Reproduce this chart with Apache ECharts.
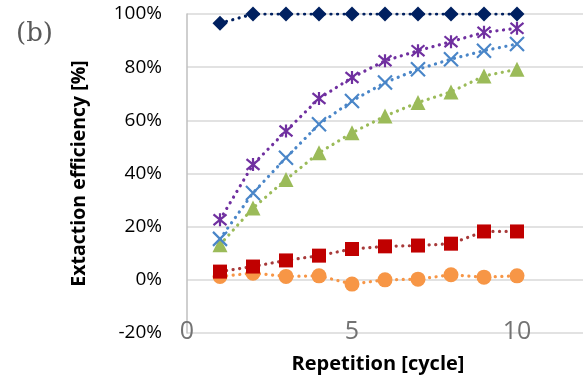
<!DOCTYPE html>
<html><head><meta charset="utf-8">
<script src="https://cdn.jsdelivr.net/npm/echarts@6/dist/echarts.min.js"></script>
<style>html,body{margin:0;padding:0;background:#fff}#c{width:586px;height:382px}</style>
</head><body><div id="c"></div>
<script>
const cycles = [1,2,3,4,5,6,7,8,9,10];
const navy   = [96.5,100,100,100,100,100,100,100,100,100];
const purple = [22.6,43.4,56.0,68.2,76.1,82.4,86.2,89.6,93.1,94.6];
const blue   = [15.4,32.7,45.9,58.5,67.3,74.2,79.2,83.0,86.2,88.7];
const green  = [13.2,27.0,37.7,47.8,55.3,61.6,66.7,70.7,76.7,79.2];
const red    = [3.1,5.0,7.3,9.1,11.6,12.6,12.9,13.6,18.2,18.2];
const orange = [1.3,2.5,1.3,1.5,-1.6,0,0.25,1.9,1.0,1.5];
const yTicks = [-20,0,20,40,60,80,100];
const xTicks = [0,5,10];

const pts = a => a.map((v,i)=>[cycles[i], v]);
const X_PATH = 'path://M0,0L10,10M10,0L0,10';
const STAR_PATH = 'path://M0,0L10,10M10,0L0,10M5,-1L5,11';
function ser(data, lineColor, symbol, size, fill, strokeOnly){
  return {
    type:'line', data: pts(data), symbol: symbol, symbolSize: size,
    lineStyle:{color:lineColor, width:3.2, type:[0.1,6.5], cap:'round'},
    itemStyle: strokeOnly ? {color:'none', borderColor:fill, borderWidth:2.2} : {color:fill, borderWidth:0},
    z: 3
  };
}
const chart = echarts.init(document.getElementById('c'), null, {renderer:'canvas'});
chart.setOption({
  animation:false,
  grid:{left:187, right:3, top:14, bottom:49, containLabel:false},
  graphic:[
    {type:'text', left:16, top:21, style:{text:'(b)', font:'26px "DejaVu Serif", "Liberation Serif", serif', fill:'#595959'}}
  ],
  xAxis:{
    type:'value', min:0, max:12, interval:5,
    name:'Repetition [cycle]', nameLocation:'middle', nameGap:21,
    nameTextStyle:{fontFamily:'Open Sans', fontWeight:'bold', fontSize:20, color:'#000', padding:[0,0,0,-14]},
    axisLine:{show:false}, axisTick:{show:false}, splitLine:{show:false},
    axisLabel:{margin:11, verticalAlign:'bottom', fontFamily:'Open Sans', fontSize:25, color:'#737373', lineHeight:25,
      customValues: xTicks, formatter: v => xTicks.includes(v) ? String(v) : ''}
  },
  yAxis:{
    type:'value', min:-20, max:100, interval:20,
    name:'Extaction efficiency [%]', nameLocation:'middle', nameGap:98, nameRotate:90,
    nameTextStyle:{fontFamily:'Open Sans', fontWeight:'bold', fontSize:19.5, color:'#000'},
    axisLine:{show:true, onZero:false, lineStyle:{color:'#BFBFBF', width:1.5}},
    axisTick:{show:false},
    splitLine:{show:true, lineStyle:{color:'#D9D9D9', width:1.5}},
    axisLabel:{margin:25, fontFamily:'Open Sans', fontSize:19, color:'#000', formatter: v => v + '%'}
  },
  series:[
    ser(orange,'#F79646','circle',15,'#F79646'),
    ser(red,'#A83A3A','rect',14,'#C00000'),
    ser(green,'#9BBB59','triangle',15,'#9BBB59'),
    ser(blue,'#4A86C8',X_PATH,14,'#4A86C8',true),
    ser(purple,'#7030A0',STAR_PATH,13,'#7030A0',true),
    ser(navy,'#002060','diamond',15,'#002060')
  ]
});
</script></body></html>
